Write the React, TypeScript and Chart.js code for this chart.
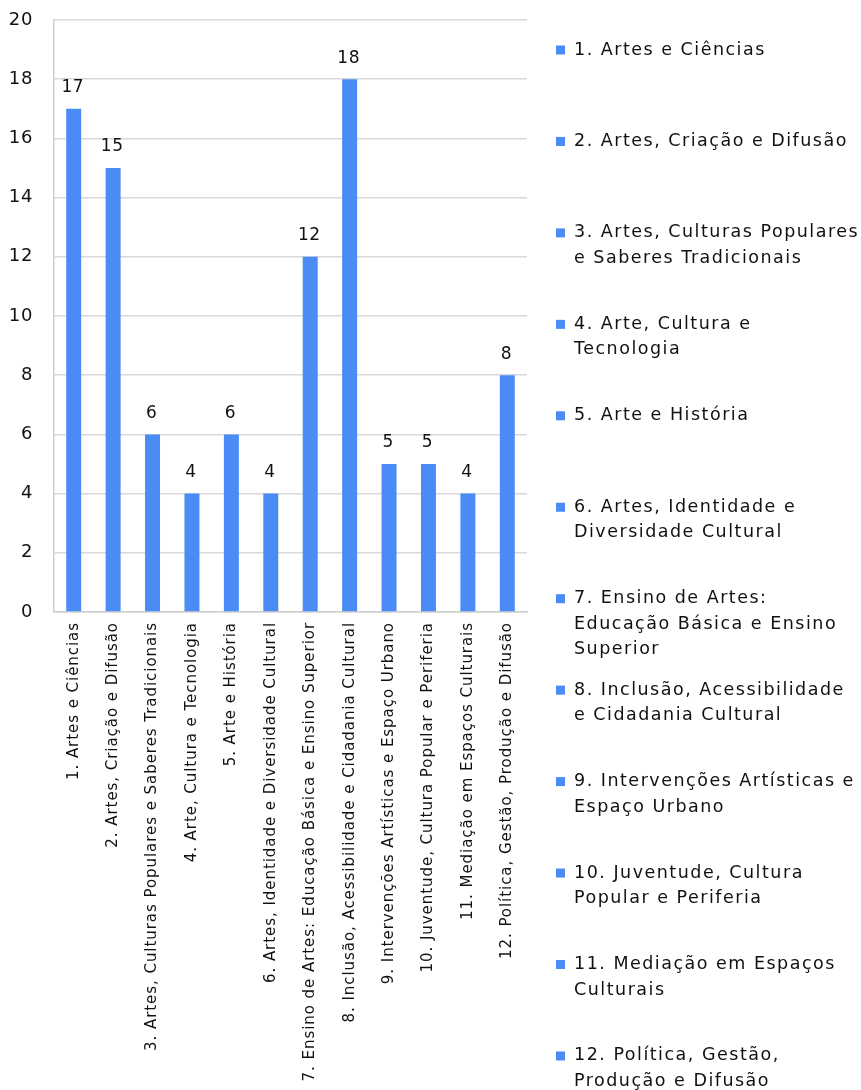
import React, { useEffect, useRef } from "react";
import { Chart, registerables } from "chart.js";

Chart.register(...registerables);

const categories: string[] = [
  "1. Artes e Ciências",
  "2. Artes, Criação e Difusão",
  "3. Artes, Culturas Populares e Saberes Tradicionais",
  "4. Arte, Cultura e Tecnologia",
  "5. Arte e História",
  "6. Artes, Identidade e Diversidade Cultural",
  "7. Ensino de Artes: Educação Básica e Ensino Superior",
  "8. Inclusão, Acessibilidade e Cidadania Cultural",
  "9. Intervenções Artísticas e Espaço Urbano",
  "10. Juventude, Cultura Popular e Periferia",
  "11. Mediação em Espaços Culturais",
  "12. Política, Gestão, Produção e Difusão",
];

const values: number[] = [17, 15, 6, 4, 6, 4, 12, 18, 5, 5, 4, 8];

const legendLines: string[][] = [
  ["1. Artes e Ciências"],
  ["2. Artes, Criação e Difusão"],
  ["3. Artes, Culturas Populares", "e Saberes Tradicionais"],
  ["4. Arte, Cultura e", "Tecnologia"],
  ["5. Arte e História"],
  ["6. Artes, Identidade e", "Diversidade Cultural"],
  ["7. Ensino de Artes:", "Educação Básica e Ensino", "Superior"],
  ["8. Inclusão, Acessibilidade", "e Cidadania Cultural"],
  ["9. Intervenções Artísticas e", "Espaço Urbano"],
  ["10. Juventude, Cultura", "Popular e Periferia"],
  ["11. Mediação em Espaços", "Culturais"],
  ["12. Política, Gestão,", "Produção e Difusão"],
];

const yMin = 0;
const yMax = 20;
const yStep = 2;

const BAR_COLOR = "#4a8bf5";
const FONT = "'DejaVu Sans', sans-serif";

const spacingPlugin = {
  id: "spacing",
  beforeDraw(chart: any) {
    chart.ctx.letterSpacing = "0.95px";
  },
  afterDraw(chart: any) {
    chart.ctx.letterSpacing = "0px";
  },
};

const valueLabelPlugin = {
  id: "valueLabels",
  afterDatasetsDraw(chart: any) {
    const ctx = chart.ctx;
    const meta = chart.getDatasetMeta(0);
    ctx.save();
    ctx.letterSpacing = "0.5px";
    ctx.font = `17px ${FONT}`;
    ctx.fillStyle = "#111";
    ctx.textAlign = "center";
    ctx.textBaseline = "middle";
    meta.data.forEach((el: any, i: number) => {
      const v = chart.data.datasets[0].data[i];
      ctx.fillText(String(v), el.x - 1, el.y - 21);
    });
    ctx.restore();
  },
};

const sideLegendPlugin = {
  id: "sideLegend",
  afterDraw(chart: any) {
    const ctx = chart.ctx;
    ctx.save();
    ctx.letterSpacing = "1.5px";
    ctx.font = `17.5px ${FONT}`;
    ctx.fillStyle = "#111";
    ctx.textAlign = "left";
    ctx.textBaseline = "middle";
    const x0 = 556;
    const top = 50;
    const itemGap = 91.45;
    const lineH = 25.5;
    legendLines.forEach((lines, i) => {
      const y = top + i * itemGap;
      ctx.fillStyle = BAR_COLOR;
      ctx.fillRect(x0, y - 4.5, 9, 9);
      ctx.fillStyle = "#111";
      lines.forEach((t, j) => {
        ctx.fillText(t, x0 + 18, y + j * lineH);
      });
    });
    ctx.restore();
  },
};

export default function App() {
  const ref = useRef<HTMLCanvasElement | null>(null);
  useEffect(() => {
    if (!ref.current) return;
    const chart = new Chart(ref.current, {
      type: "bar",
      data: {
        labels: categories,
        datasets: [
          {
            data: values,
            backgroundColor: BAR_COLOR,
            barPercentage: 0.38,
            categoryPercentage: 1,
          },
        ],
      },
      options: {
        responsive: false,
        animation: false,
        layout: { padding: { top: 20, right: 334, bottom: 0, left: 0 } },
        plugins: {
          legend: { display: false },
          tooltip: { enabled: false },
        },
        scales: {
          x: {
            grid: { display: false, drawTicks: false },
            border: { display: true, color: "#cfcfcf", width: 1.5 },
            ticks: {
              autoSkip: false,
              maxRotation: 90,
              minRotation: 90,
              padding: 10,
              color: "#111",
              font: { family: FONT, size: 15 },
            },
            afterFit: (s: any) => {
              s.height = 478;
              s.paddingTop = 0;
              s.paddingBottom = 0;
              s.paddingLeft = 0;
              s.paddingRight = 0;
            },
          },
          y: {
            min: yMin,
            max: yMax,
            grid: { color: "#d9d9d9", lineWidth: 1.5, drawTicks: false },
            border: { display: true, color: "#cfcfcf", width: 1.5 },
            ticks: {
              stepSize: yStep,
              padding: 20.5,
              color: "#111",
              font: { family: FONT, size: 18 },
            },
            afterFit: (s: any) => {
              s.width = 54;
              s.paddingTop = 0;
              s.paddingBottom = 0;
            },
          },
        },
      },
      plugins: [spacingPlugin, valueLabelPlugin, sideLegendPlugin],
    });
    return () => chart.destroy();
  }, []);
  return (
    <div style={{ position: "absolute", left: 0, top: 0, width: 861, height: 1090, background: "#fff" }}>
      <canvas ref={ref} width={861} height={1090} />
    </div>
  );
}
